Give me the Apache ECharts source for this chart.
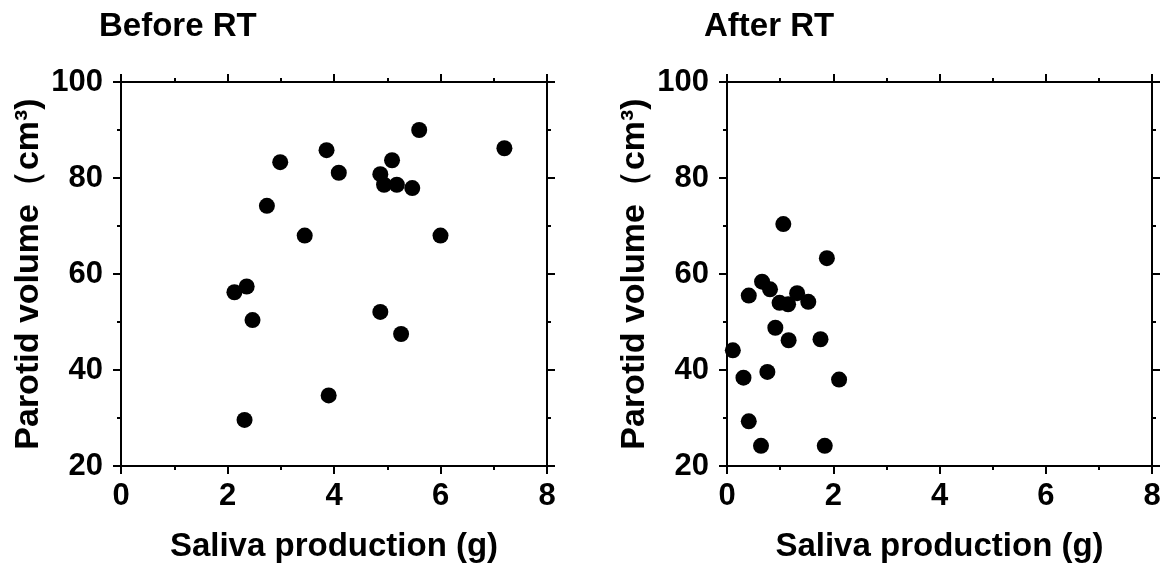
<!DOCTYPE html>
<html>
<head>
<meta charset="utf-8">
<script src="https://cdn.jsdelivr.net/npm/echarts@6/dist/echarts.min.js"></script>
<style>
  html, body { margin: 0; padding: 0; background: #fff; }
  #main { width: 1169px; height: 569px; }
</style>
</head>
<body>
<div id="main"></div>
<script>
// saliva production (g) / parotid volume (cm3)
const beforeSaliva = [5.60, 7.20, 3.86, 2.99, 5.09, 4.09, 4.87, 4.94, 5.18, 5.47, 2.74, 3.45, 6.00, 2.13, 2.36, 2.47, 4.87, 5.26, 3.90, 2.32];
const beforeVolume = [90.0, 86.2, 85.8, 83.3, 83.7, 81.1, 80.8, 78.6, 78.6, 77.9, 74.2, 68.0, 68.0, 56.2, 57.4, 50.4, 52.1, 47.5, 34.7, 29.6];
const afterSaliva = [1.06, 1.88, 0.66, 0.81, 0.41, 1.32, 0.99, 1.15, 1.53, 0.91, 1.16, 1.76, 0.11, 0.31, 0.76, 2.11, 0.41, 0.64, 1.84];
const afterVolume = [70.4, 63.3, 58.4, 56.8, 55.5, 56.0, 54.0, 53.7, 54.2, 48.8, 46.2, 46.4, 44.1, 38.4, 39.6, 38.0, 29.3, 24.2, 24.2];
const xTicks = [0, 2, 4, 6, 8];
const yTicks = [20, 40, 60, 80, 100];
const panelTitles = ['Before RT', 'After RT'];

const font = 'Liberation Sans, Arial, sans-serif';
const lineStyle = { color: '#000', width: 2 };

function pairs(xs, ys) {
  return xs.map((x, i) => [x, ys[i]]);
}

function xAxis(gridIndex, pos) {
  const bottom = pos === 'bottom';
  return {
    type: 'value', gridIndex: gridIndex, position: pos,
    min: xTicks[0], max: xTicks[xTicks.length - 1], interval: 2,
    name: bottom ? 'Saliva production (g)' : '',
    nameLocation: 'middle', nameGap: 64,
    nameTextStyle: { fontFamily: font, fontWeight: 'bold', fontSize: 33, color: '#000' },
    axisLine: { show: true, onZero: false, lineStyle: lineStyle },
    axisTick: { show: true, length: 8, lineStyle: lineStyle },
    minorTick: { show: true, splitNumber: 2, length: 4, lineStyle: lineStyle },
    axisLabel: { show: bottom, margin: 15, fontFamily: font, fontWeight: 'bold', fontSize: 31, color: '#000' },
    splitLine: { show: false }
  };
}

function yAxis(gridIndex, pos) {
  const left = pos === 'left';
  return {
    type: 'value', gridIndex: gridIndex, position: pos,
    min: yTicks[0], max: yTicks[yTicks.length - 1], interval: 20,
    name: left ? 'Parotid volume（cm³)' : '',
    nameLocation: 'middle', nameGap: 75, nameRotate: 90,
    nameTextStyle: { fontFamily: font, fontWeight: 'bold', fontSize: 34, color: '#000' },
    axisLine: { show: true, onZero: false, lineStyle: lineStyle },
    axisTick: { show: true, length: 8, lineStyle: lineStyle },
    minorTick: { show: true, splitNumber: 2, length: 4, lineStyle: lineStyle },
    axisLabel: { show: left, margin: 18, fontFamily: font, fontWeight: 'bold', fontSize: 31, color: '#000' },
    splitLine: { show: false }
  };
}

let option = {
  backgroundColor: '#fff',
  animation: false,
  title: [
    { text: panelTitles[0], left: 94, top: 5, textStyle: { fontFamily: font, fontWeight: 'bold', fontSize: 33, color: '#000' } },
    { text: panelTitles[1], left: 699, top: 5, textStyle: { fontFamily: font, fontWeight: 'bold', fontSize: 33, color: '#000' } }
  ],
  grid: [
    { left: 121, top: 82, width: 426, height: 384 },
    { left: 727, top: 82, width: 425, height: 384 }
  ],
  xAxis: [xAxis(0, 'bottom'), xAxis(0, 'top'), xAxis(1, 'bottom'), xAxis(1, 'top')],
  yAxis: [yAxis(0, 'left'), yAxis(0, 'right'), yAxis(1, 'left'), yAxis(1, 'right')],
  series: [
    {
      type: 'scatter', xAxisIndex: 0, yAxisIndex: 0,
      symbolSize: 16, itemStyle: { color: '#000', opacity: 1 },
      data: pairs(beforeSaliva, beforeVolume)
    },
    {
      type: 'scatter', xAxisIndex: 2, yAxisIndex: 2,
      symbolSize: 16, itemStyle: { color: '#000', opacity: 1 },
      data: pairs(afterSaliva, afterVolume)
    }
  ]
};

let chart = echarts.init(document.getElementById('main'));
chart.setOption(option);
window.addEventListener('resize', chart.resize);
</script>
</body>
</html>
